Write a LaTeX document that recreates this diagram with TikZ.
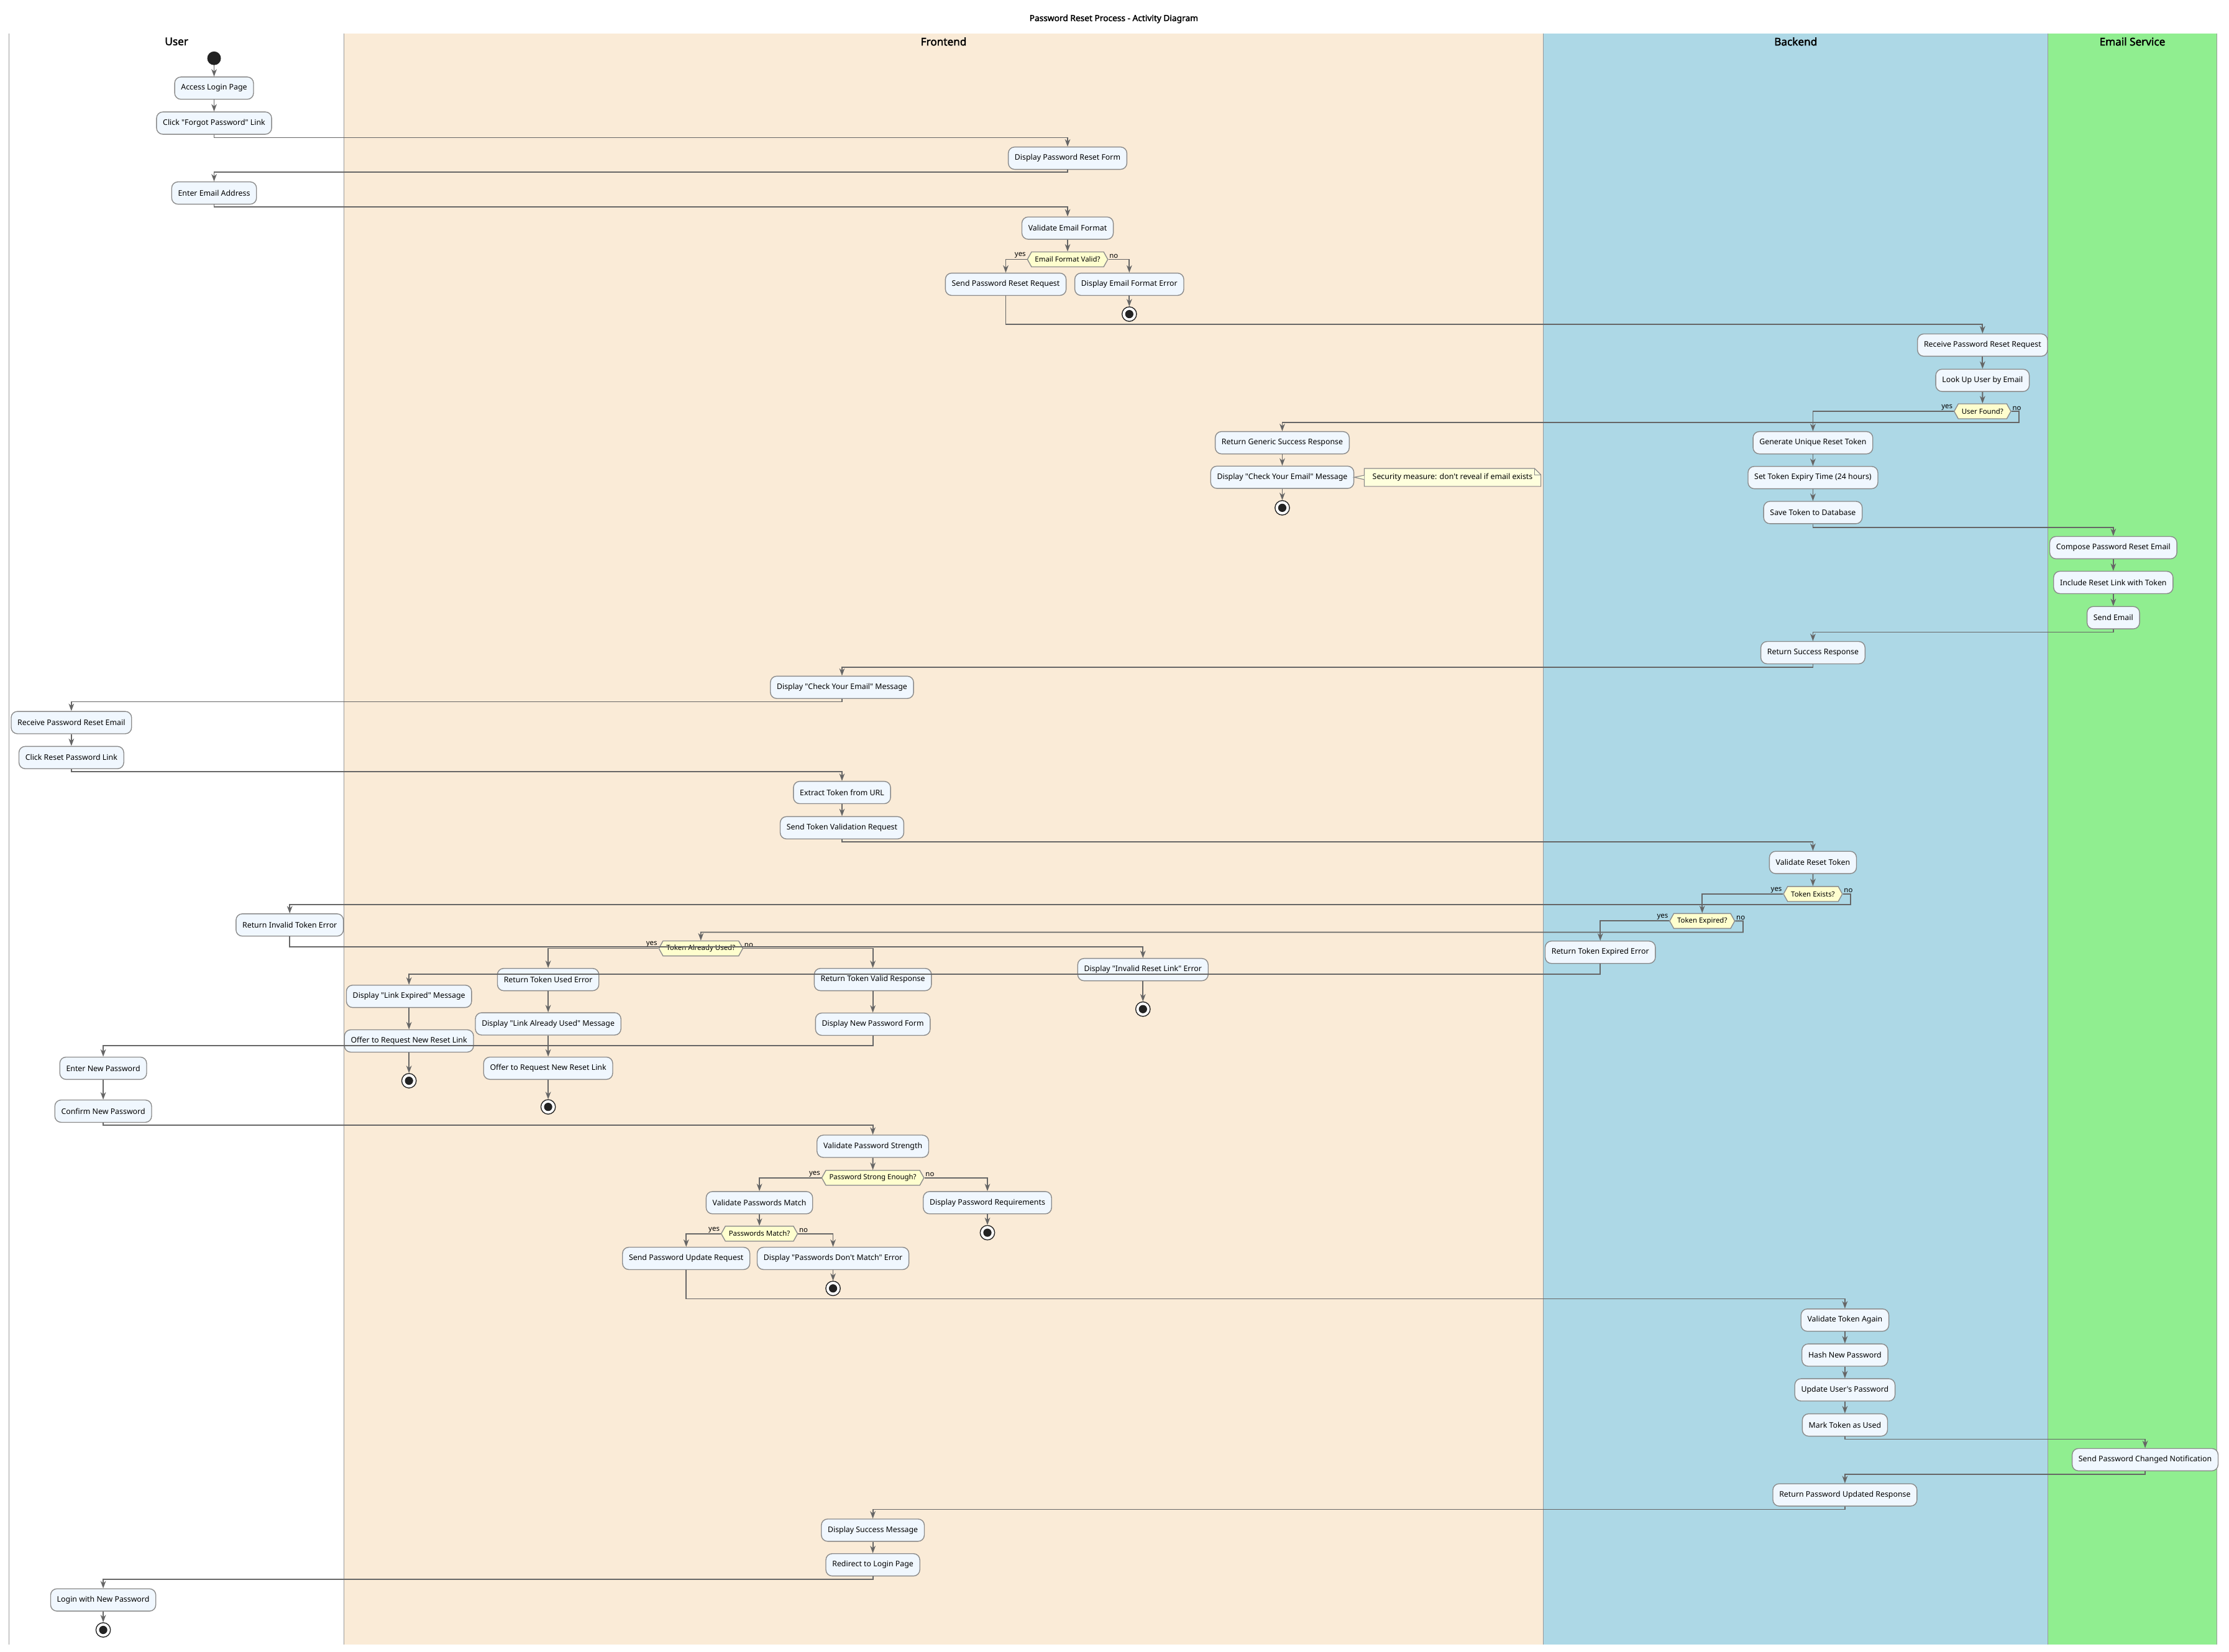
\documentclass[tikz,border=0pt]{standalone}
\usepackage{fontspec}
\setmainfont{Noto Sans}[Ligatures=TeXOff, AutoFakeBold=2.2]
\usetikzlibrary{arrows.meta,shapes.symbols}

\definecolor{actfill}{HTML}{F0F7FE}
\definecolor{actline}{HTML}{8A8A8A}
\definecolor{condfill}{HTML}{FEFECE}
\definecolor{notefill}{HTML}{FEFFDD}
\definecolor{flowline}{HTML}{666666}
\definecolor{dotcol}{HTML}{222222}
\definecolor{frontbg}{HTML}{FAEBD7}
\definecolor{backbg}{HTML}{ADD8E6}
\definecolor{mailbg}{HTML}{90EE90}
\definecolor{laneline}{HTML}{999999}

\begin{document}
\begin{tikzpicture}[x=1pt, y=-1pt,
  every node/.style={font=\fontsize{5.4}{6.5}\selectfont},
  act/.style={draw=actline, fill=actfill, line width=0.6pt, rounded corners=4.4pt,
    minimum height=15.7pt, inner xsep=4.5pt, inner ysep=0pt},
  cond/.style={signal, signal to=east and west, signal pointer angle=122,
    draw=actline, fill=condfill, line width=0.6pt, minimum height=10.5pt,
    inner xsep=2.4pt, inner ysep=0pt, font=\fontsize{5}{6}\selectfont},
  lbl/.style={inner sep=0.6pt, font=\fontsize{5}{6}\selectfont},
  init/.style={circle, fill=dotcol, minimum size=9.6pt, inner sep=0pt},
  fin/.style={circle, draw=dotcol, fill=white, line width=0.6pt, minimum size=10.2pt,
    inner sep=0pt, path picture={\fill[dotcol] (path picture bounding box.center) circle (2.9pt);}},
  notebox/.style={fill=notefill, minimum height=12.2pt, minimum width=123.8pt,
    inner xsep=4.5pt, inner ysep=0pt},
  lanehead/.style={font=\fontsize{7.5}{9}\selectfont\bfseries},
  flow/.style={draw=flowline, line width=0.8pt,
    -{Stealth[length=5.2pt, width=3.8pt, inset=1.6pt]}}]

  \useasboundingbox (0,0) rectangle (1568,1162);
  \fill[frontbg] (241.9,23.4) rectangle (1085.7,1157.2);
  \fill[backbg] (1085.7,23.4) rectangle (1440.7,1157.2);
  \fill[mailbg] (1440.7,23.4) rectangle (1559.3,1157.2);
  \foreach \x in {6.5,241.9,1085.7,1440.7,1559.3}
    \draw[laneline, line width=0.5pt] (\x,23.4) -- (\x,1157.2);

  \node[font=\fontsize{6}{7}\selectfont\bfseries] (title) at (783.5,13.3) {Password Reset Process - Activity Diagram};
  \node[lanehead] (hUser) at (124.2,29.2) {User};
  \node[lanehead] (hFront) at (663.8,29.2) {Frontend};
  \node[lanehead] (hBack) at (1263.2,29.2) {Backend};
  \node[lanehead] (hMail) at (1500,29.2) {Email Service};

  \node[init] (startdot) at (150.6,41) {};
  \node[act] (alp) at (150.6,62) {Access Login Page};
  \node[act] (cfp) at (150.6,86.6) {Click "Forgot Password" Link};
  \node[act] (dprf) at (751,111.3) {Display Password Reset Form};
  \node[act] (eea) at (150.6,135.8) {Enter Email Address};
  \node[act] (vef) at (751,160.5) {Validate Email Format};
  \node[cond] (efv) at (751,182.5) {Email Format Valid?};
  \node[act] (sprr) at (707.5,200) {Send Password Reset Request};
  \node[act] (def) at (794.4,200) {Display Email Format Error};
  \node[fin] (end1) at (794.4,221) {};

  \node[act] (rprr) at (1394.6,242.8) {Receive Password Reset Request};
  \node[act] (lube) at (1394.6,267.6) {Look Up User by Email};
  \node[cond] (uf) at (1394.6,289.4) {User Found?};
  \node[act] (gsr) at (902,311.5) {Return Generic Success Response};
  \node[act] (dcye) at (902,335.8) {Display "Check Your Email" Message};
  \node[fin] (end2) at (902,357.3) {};
  \node[act] (gurt) at (1275.3,311.5) {Generate Unique Reset Token};
  \node[act] (stet) at (1275.3,336) {Set Token Expiry Time (24 hours)};
  \node[act] (std) at (1275.3,360.6) {Save Token to Database};
  \node[act] (cpre) at (1486.6,385.3) {Compose Password Reset Email};
  \node[act] (irlt) at (1486.6,409.8) {Include Reset Link with Token};
  \node[act] (se) at (1486.6,434.6) {Send Email};
  \node[act] (rsr) at (1275.3,459.2) {Return Success Response};
  \node[act] (dcye2) at (592.3,483.6) {Display "Check Your Email" Message};
  \node[act] (rpre) at (50.2,508.4) {Receive Password Reset Email};
  \node[act] (crpl) at (50.2,533) {Click Reset Password Link};
  \node[act] (etu) at (592.3,557.6) {Extract Token from URL};
  \node[act] (stvr) at (592.3,582.4) {Send Token Validation Request};

  \node[act] (vrt) at (1275.3,606.8) {Validate Reset Token};
  \node[cond] (tex) at (1275.3,629) {Token Exists?};
  \node[cond] (txp) at (1197.4,648) {Token Expired?};
  \node[act] (rite) at (203.8,650.8) {Return Invalid Token Error};
  \node[cond] (tau) at (493,667.3) {Token Already Used?};
  \node[act] (rtee) at (1125.7,670) {Return Token Expired Error};
  \node[act] (dirl) at (804,682.2) {Display "Invalid Reset Link" Error};
  \node[fin] (end3) at (804,710) {};
  \node[act] (rtue) at (385.6,689.2) {Return Token Used Error};
  \node[act] (rtvr) at (614,689.2) {Return Token Valid Response};
  \node[act] (dle) at (287.7,701) {Display "Link Expired" Message};
  \node[act] (dlau) at (385.6,720.4) {Display "Link Already Used" Message};
  \node[act] (dnpf) at (614,720.6) {Display New Password Form};
  \node[act] (orn1) at (287.7,732.4) {Offer to Request New Reset Link};
  \node[act] (orn2) at (385.6,751.6) {Offer to Request New Reset Link};
  \node[fin] (end4) at (287.7,760.4) {};
  \node[fin] (end5) at (385.6,778.8) {};
  \node[act] (enp) at (72.6,751.6) {Enter New Password};
  \node[act] (cnp) at (72.6,781.8) {Confirm New Password};

  \node[act] (vps) at (614,806.5) {Validate Password Strength};
  \node[cond] (pse) at (614,828.7) {Password Strong Enough?};
  \node[act] (vpm) at (534.2,846.2) {Validate Passwords Match};
  \node[act] (dpr) at (694.6,846.2) {Display Password Requirements};
  \node[fin] (end6) at (694.6,867.3) {};
  \node[cond] (pm) at (534.2,868) {Passwords Match?};
  \node[act] (spur) at (482.7,885.4) {Send Password Update Request};
  \node[act] (dpdm) at (586,885.4) {Display "Passwords Don't Match" Error};
  \node[fin] (end7) at (586,906.5) {};
  \node[act] (vta) at (1297.8,928.8) {Validate Token Again};
  \node[act] (hnp) at (1297.8,953.4) {Hash New Password};
  \node[act] (uup) at (1297.8,977.9) {Update User's Password};
  \node[act] (mtu) at (1297.8,1002.6) {Mark Token as Used};
  \node[act] (spcn) at (1509,1027) {Send Password Changed Notification};
  \node[act] (rpur) at (1297.8,1051.8) {Return Password Updated Response};
  \node[act] (dsm) at (614,1076.6) {Display Success Message};
  \node[act] (rlp) at (614,1101) {Redirect to Login Page};
  \node[act] (lnp) at (72.6,1125.7) {Login with New Password};
  \node[fin] (end8) at (72.6,1146.8) {};

  \node[lbl, anchor=south east] (efvY) at (efv.west) {yes};
  \node[lbl, anchor=south west] (efvN) at (efv.east) {no};
  \node[lbl, anchor=south east] (ufY) at (uf.west) {yes};
  \node[lbl, anchor=south west] (ufN) at (uf.east) {no};
  \node[lbl, anchor=south east] (texY) at (tex.west) {yes};
  \node[lbl, anchor=south west] (texN) at (tex.east) {no};
  \node[lbl, anchor=south east] (txpY) at (txp.west) {yes};
  \node[lbl, anchor=south west] (txpN) at (txp.east) {no};
  \node[lbl, anchor=south east] (tauY) at (tau.west) {yes};
  \node[lbl, anchor=south west] (tauN) at (tau.east) {no};
  \node[lbl, anchor=south east] (pseY) at (pse.west) {yes};
  \node[lbl, anchor=south west] (pseN) at (pse.east) {no};
  \node[lbl, anchor=south east] (pmY) at (pm.west) {yes};
  \node[lbl, anchor=south west] (pmN) at (pm.east) {no};

  \node[notebox, anchor=west] (secnote) at (959.7,335.9) {Security measure: don't reveal if email exists};
  \fill[frontbg] ([xshift=-4.4pt]secnote.north east) -- (secnote.north east) -- ([yshift=-4.4pt]secnote.north east) -- cycle;
  \draw[actline, line width=0.5pt] (secnote.south west) -- (secnote.north west) -- ([xshift=-4.4pt]secnote.north east)
    -- ([yshift=-4.4pt]secnote.north east) -- (secnote.south east) -- cycle;
  \draw[actline, line width=0.5pt] ([xshift=-4.4pt]secnote.north east) -- ([xshift=-4.4pt,yshift=-4.4pt]secnote.north east)
    -- ([yshift=-4.4pt]secnote.north east);
  \path[fill=notefill] (dcye.east) -- ([yshift=1.5pt]secnote.west) -- ([yshift=-1.5pt]secnote.west) -- cycle;
  \draw[actline, line width=0.5pt] ([yshift=1.5pt]secnote.west) -- (dcye.east) -- ([yshift=-1.5pt]secnote.west);

  \draw[flow] (startdot) -- (alp);
  \draw[flow] (alp) -- (cfp);
  \draw[flow] (cfp) -- (cfp |- 0,96.8) -| (dprf);
  \draw[flow] (dprf) -- (dprf |- 0,121.2) -| (eea);
  \draw[flow] (eea) -- (eea |- 0,145.7) -| (vef);
  \draw[flow] (vef) -- (efv);
  \draw[flow] (efv.west) -| (sprr);
  \draw[flow] (efv.east) -| (def);
  \draw[flow] (def) -- (end1);
  \draw[flow] (sprr) -- (sprr |- 0,228.3) -| (rprr);
  \draw[flow] (rprr) -- (lube);
  \draw[flow] (lube) -- (uf);
  \draw[flow] (uf.west) -| (gurt);
  \draw[flow] (uf.east) -- ++(5.5,0) |- (gsr |- 0,297.2) -- (gsr);
  \draw[flow] (gsr) -- (dcye);
  \draw[flow] (dcye) -- (end2);
  \draw[flow] (gurt) -- (stet);
  \draw[flow] (stet) -- (std);
  \draw[flow] (std) -- (std |- 0,371) -| (cpre);
  \draw[flow] (cpre) -- (irlt);
  \draw[flow] (irlt) -- (se);
  \draw[flow] (se) -- (se |- 0,444.8) -| (rsr);
  \draw[flow] (rsr) -- (rsr |- 0,469.4) -| (dcye2);
  \draw[flow] (dcye2) -- (dcye2 |- 0,493.7) -| (rpre);
  \draw[flow] (rpre) -- (crpl);
  \draw[flow] (crpl) -- (crpl |- 0,543) -| (etu);
  \draw[flow] (etu) -- (stvr);
  \draw[flow] (stvr) -- (stvr |- 0,592.3) -| (vrt);
  \draw[flow] (vrt) -- (tex);
  \draw[flow] (tex.west) -| (txp);
  \draw[flow] (tex.east) -- ++(5.5,0) |- (rite |- 0,636.6) -- (rite);
  \draw[flow] (txp.west) -| (rtee);
  \draw[flow] (txp.east) -- ++(5.5,0) |- (tau |- 0,655.9) -- (tau);
  \draw[flow] (rite) -- (rite |- 0,666.2) -| (dirl);
  \draw[flow] (dirl) -- (end3);
  \draw[flow] (tau.west) -| (rtue);
  \draw[flow] (tau.east) -| (rtvr);
  \draw[flow] (rtee) -- (rtee |- 0,685.5) -| (dle);
  \draw[flow] (rtue) -- (dlau);
  \draw[flow] (dlau) -- (orn2);
  \draw[flow] (orn2) -- (end5);
  \draw[flow] (dle) -- (orn1);
  \draw[flow] (orn1) -- (end4);
  \draw[flow] (rtvr) -- (dnpf);
  \draw[flow] (dnpf) -- (dnpf |- 0,735.8) -| (enp);
  \draw[flow] (enp) -- (cnp);
  \draw[flow] (cnp) -- (cnp |- 0,791.8) -| (vps);
  \draw[flow] (vps) -- (pse);
  \draw[flow] (pse.west) -| (vpm);
  \draw[flow] (pse.east) -| (dpr);
  \draw[flow] (dpr) -- (end6);
  \draw[flow] (vpm) -- (pm);
  \draw[flow] (pm.west) -| (spur);
  \draw[flow] (pm.east) -| (dpdm);
  \draw[flow] (dpdm) -- (end7);
  \draw[flow] (spur) -- (spur |- 0,913.8) -| (vta);
  \draw[flow] (vta) -- (hnp);
  \draw[flow] (hnp) -- (uup);
  \draw[flow] (uup) -- (mtu);
  \draw[flow] (mtu) -- (mtu |- 0,1012.6) -| (spcn);
  \draw[flow] (spcn) -- (spcn |- 0,1037.2) -| (rpur);
  \draw[flow] (rpur) -- (rpur |- 0,1062) -| (dsm);
  \draw[flow] (dsm) -- (rlp);
  \draw[flow] (rlp) -- (rlp |- 0,1111) -| (lnp);
  \draw[flow] (lnp) -- (end8);
\end{tikzpicture}
\end{document}
